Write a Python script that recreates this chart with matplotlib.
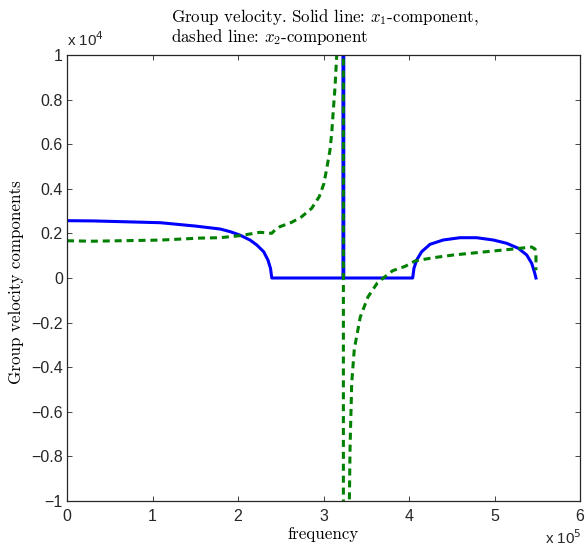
import numpy as np
import matplotlib
matplotlib.use('Agg')
import matplotlib.pyplot as plt

# frequency (Hz) and group velocity components
# solid line: x1-component
freq_x1 = [0, 0.30e5, 1.09e5, 1.50e5, 1.79e5, 1.91e5, 2.02e5, 2.14e5, 2.22e5,
           2.30e5, 2.35e5, 2.38e5, 2.395e5,
           3.228e5, 3.229e5, 3.236e5, 3.237e5,
           4.043e5, 4.058e5, 4.09e5, 4.148e5, 4.246e5, 4.40e5, 4.596e5, 4.79e5,
           4.986e5, 5.143e5, 5.279e5, 5.377e5, 5.435e5, 5.466e5, 5.485e5]
vel_x1 = [2570, 2560, 2480, 2330, 2197, 2076, 1928, 1704, 1480,
          1179, 807, 435, 0,
          0, 1e6, 1e6, 0,
          0, 435, 807, 1179, 1511, 1704, 1807, 1807,
          1704, 1556, 1332, 1031, 659, 283, 0]

# dashed line: x2-component
freq_x2 = [0, 0.30e5, 1.09e5, 1.56e5, 1.79e5, 2.02e5, 2.257e5, 2.394e5, 2.433e5,
           2.49e5, 2.628e5, 2.745e5, 2.862e5, 2.95e5, 3.006e5, 3.045e5, 3.076e5,
           3.096e5, 3.115e5, 3.135e5, 3.154e5, 3.19e5, 3.22e5, 3.232e5,
           3.233e5, 3.26e5, 3.29e5, 3.31e5, 3.33e5, 3.36e5, 3.43e5, 3.52e5, 3.63e5,
           3.70e5, 3.81e5, 3.953e5, 4.07e5, 4.284e5, 4.518e5, 4.752e5, 4.986e5,
           5.22e5, 5.435e5, 5.474e5, 5.485e5, 5.485e5, 5.485e5]
vel_x2 = [1670, 1650, 1700, 1790, 1807, 1897, 2049, 2004, 2152,
          2300, 2498, 2749, 3126, 3646, 4247, 5067, 5740,
          6488, 7534, 8580, 9924, 15000, 30000, 1e6,
          -1e6, -30000, -14000, -7700, -4700, -3200, -1750, -850, -220,
          0, 330, 520, 762, 910, 1031, 1121, 1211,
          1300, 1390, 1300, 1031, 507, 350]

xticks = [0, 1e5, 2e5, 3e5, 4e5, 5e5, 6e5]
xticklabels = ['0', '1', '2', '3', '4', '5', '6']
yticks = [-1e4, -0.8e4, -0.6e4, -0.4e4, -0.2e4, 0, 0.2e4, 0.4e4, 0.6e4, 0.8e4, 1e4]
yticklabels = ['\u22121', '\u22120.8', '\u22120.6', '\u22120.4', '\u22120.2', '0',
               '0.2', '0.4', '0.6', '0.8', '1']

plt.rcParams['mathtext.fontset'] = 'cm'
plt.rcParams['font.family'] = ['Liberation Sans', 'DejaVu Sans']

fig = plt.figure(figsize=(5.85, 5.46), dpi=100)
ax = fig.add_axes([67/585, 1-501/546, (580-67)/585, (501-55)/546])

ax.plot(freq_x1, vel_x1, color=(0, 0, 1), lw=2.2, solid_joinstyle='round')
ax.plot(freq_x2, vel_x2, color=(0, 0.5, 0), lw=2.2, ls='--', dashes=(2.3, 1.6))

ax.set_xlim(0, 6e5)
ax.set_ylim(-1e4, 1e4)
ax.set_xticks(xticks)
ax.set_xticklabels(xticklabels)
ax.set_yticks(yticks)
ax.set_yticklabels(yticklabels)
ax.tick_params(direction='in', length=3.5, width=0.6, labelsize=11.5,
               top=True, right=True, colors='#262626', pad=3)
ax.tick_params(axis='x', pad=5.5)
for s in ax.spines.values():
    s.set_linewidth(0.9)
    s.set_color('#262626')

ax.text(0.0, 1.014, 'x 10$^{4}$', transform=ax.transAxes, fontsize=11,
        ha='left', va='bottom', color='#262626', math_fontfamily='dejavusans')
fig.text(582/585, 1-538/546, 'x 10$^{5}$', fontsize=11,
         ha='right', va='center', color='#262626', math_fontfamily='dejavusans')

serif = dict(family='cmr10', fontsize=12.2)
fig.text(325/585, 1-27/546,
         'Group velocity. Solid line: $x_1$-component,\ndashed line: $x_2$-component',
         ha='center', va='center', ma='left', linespacing=1.05, **serif)
fig.text(323/585, 1-534/546, 'frequency', ha='center', va='center', **serif)
fig.text(16/585, 1-282/546, 'Group velocity components', rotation=90,
         ha='center', va='center', **serif)

fig.savefig('out.png', dpi=100)
